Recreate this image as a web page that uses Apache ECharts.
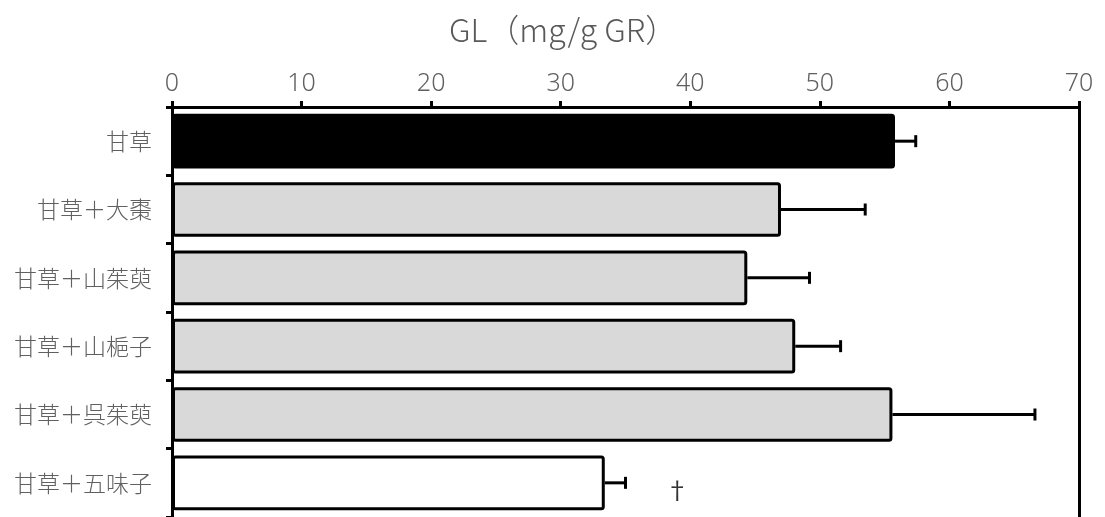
<!DOCTYPE html>
<html><head><meta charset="utf-8">
<script src="https://cdn.jsdelivr.net/npm/echarts@6/dist/echarts.min.js"></script>
<style>html,body{margin:0;padding:0;background:#fff}#c{width:1105px;height:517px}</style>
</head><body><div id="c"></div>
<script>
const categories = ['甘草','甘草＋大棗','甘草＋山茱萸','甘草＋山梔子','甘草＋呉茱萸','甘草＋五味子'];
const values = [55.8, 47.0, 44.4, 48.1, 55.6, 33.4];
const errors = [1.6, 6.5, 4.8, 3.5, 11.0, 1.6];
const xTicks = [0, 10, 20, 30, 40, 50, 60, 70];
const marks = [{cat: 5, x: 39, text: '†'}];
const barColors = ['#000000', '#d9d9d9', '#d9d9d9', '#d9d9d9', '#d9d9d9', '#ffffff'];

const FONT = '"Noto Sans CJK JP", "Noto Sans", sans-serif';
const LFONT = '"Noto Sans", "Noto Sans CJK JP", sans-serif';
const chart = echarts.init(document.getElementById('c'));
chart.setOption({
  animation: false,
  title: {text: 'GL（mg/g GR）', left: 444, top: 9,
    textStyle: {fontFamily: FONT, fontSize: 32, fontWeight: 300, color: '#595959'}},
  grid: {left: 172, top: 107, width: 907, height: 414, containLabel: false},
  xAxis: {type: 'value', position: 'top', min: xTicks[0], max: xTicks[xTicks.length-1], interval: 10,
    axisLine: {show: true, lineStyle: {color: '#000', width: 3}},
    axisTick: {show: true, length: 6, lineStyle: {color: '#000', width: 3}},
    splitLine: {show: false},
    axisLabel: {margin: 11, fontFamily: LFONT, fontSize: 25, fontWeight: 300, color: '#606060'}},
  yAxis: [{type: 'category', data: categories, inverse: true,
    axisLine: {show: true, lineStyle: {color: '#000', width: 3}},
    axisTick: {show: true, length: 6, lineStyle: {color: '#000', width: 3}},
    axisLabel: {margin: 20, fontFamily: FONT, fontSize: 23, fontWeight: 300, color: '#606060'}},
    {type: 'category', data: categories, inverse: true, position: 'right',
    axisLine: {show: true, lineStyle: {color: '#000', width: 3}},
    axisTick: {show: false}, axisLabel: {show: false}}],
  series: [
    {type: 'bar', barCategoryGap: '20%',
     data: values.map((v, i) => ({value: v, itemStyle: {color: barColors[i]}})),
     itemStyle: {borderColor: '#000', borderWidth: 3, borderRadius: 2}},
    {type: 'custom', encode: {x: 0, y: 1},
     data: values.map((v, i) => [v, i, errors[i]]),
     renderItem: function (params, api) {
       const v = api.value(0), i = api.value(1), e = api.value(2);
       const p0 = api.coord([v, i]);
       const p1 = api.coord([v + e, i]);
       const st = {stroke: '#000', lineWidth: 3};
       return {type: 'group', children: [
         {type: 'line', shape: {x1: p0[0], y1: p0[1], x2: p1[0], y2: p1[1]}, style: st},
         {type: 'line', shape: {x1: p1[0], y1: p1[1] - 6, x2: p1[0], y2: p1[1] + 6}, style: st}
       ]};
     }},
    {type: 'scatter', symbolSize: 0,
     data: marks.map(m => ({value: [m.x, m.cat], label: {show: true, formatter: m.text}})),
     label: {position: 'inside', offset: [0, 7], fontFamily: FONT, fontSize: 24, color: '#000'}}
  ]
});
</script></body></html>
